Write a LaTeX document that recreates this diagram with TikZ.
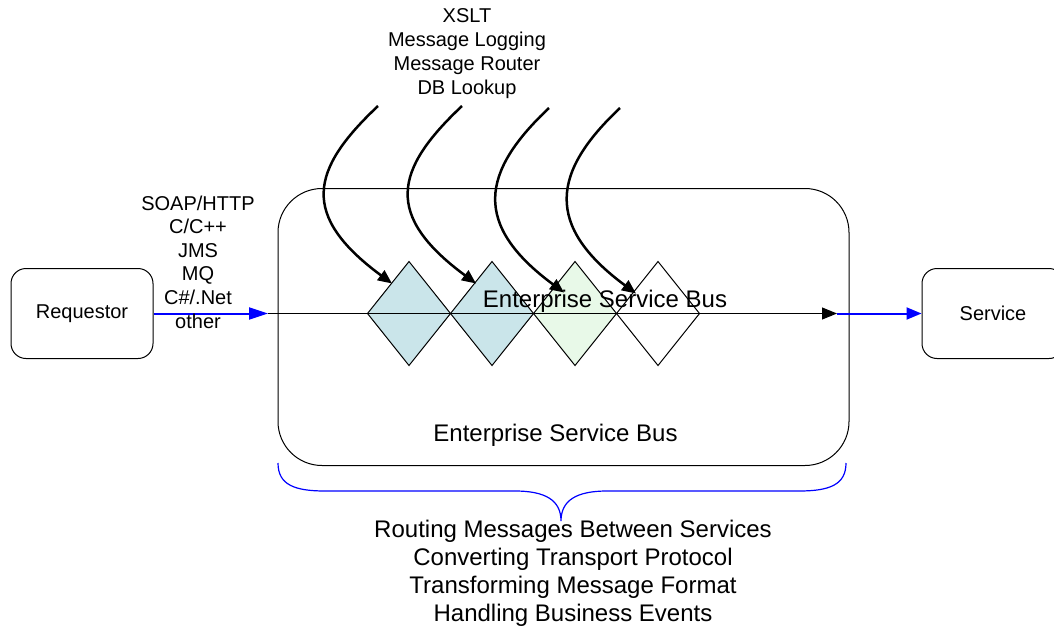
\documentclass[tikz,border=0pt]{standalone}
\usepackage{fontspec}
\setmainfont{Liberation Sans}
\usetikzlibrary{arrows.meta, positioning, calc, shapes.geometric}

\definecolor{hatchblue}{RGB}{202,229,234}
\definecolor{dotgreen}{RGB}{232,249,232}
\definecolor{busblue}{RGB}{0,0,255}

\tikzset{
  endpoint/.style={draw, line width=1pt, rounded corners=15pt, minimum width=142pt, minimum height=90pt, font=\fontsize{20}{24}\selectfont},
  stage/.style={diamond, draw, line width=1pt, minimum width=83pt, minimum height=104pt, inner sep=0pt, outer sep=0pt},
  feed/.style={line width=2.5pt, -{Triangle[length=14pt, width=12pt]}},
  textblock/.style={align=center, inner sep=0pt},
}

\begin{document}
\begin{tikzpicture}[x=1pt, y=-1pt, >=latex]

\useasboundingbox (0,0) rectangle (1054,629);

\node[endpoint] (req) at (82,313.5) {Requestor};
\node[endpoint] (srv) at (993,313.5) {Service};

\node[draw, line width=1pt, rounded corners=44pt, minimum width=571pt, minimum height=277pt] (esb) at (563.5,327) {};

\node[stage, fill=hatchblue] (d1) at (409,313.5) {};
\node[stage, fill=hatchblue, right=0pt of d1] (d2) {};
\node[stage, fill=dotgreen, right=0pt of d2] (d3) {};
\node[stage, fill=white, right=0pt of d3] (d4) {};

\coordinate (busin) at (268,313.5);
\coordinate (busout) at (837,313.5);

\draw[busblue, line width=2pt, -{Triangle[length=19pt, width=12pt]}] (req.east) -- (busin);
\draw[line width=1pt, -{Triangle[length=15pt, width=12pt]}] (busin) -- (busout);
\draw[busblue, line width=2pt, -{Triangle[length=15pt, width=12pt]}] (busout) -- (srv.west);

\coordinate (x1) at (378,106);
\coordinate (x2) at (462,106);
\coordinate (x3) at (549,108);
\coordinate (x4) at (620,108);
\coordinate (a1) at ($(d1.center)+(-17,-30)$);
\coordinate (a2) at ($(d2.center)+(-16,-30)$);
\coordinate (a3) at ($(d3.center)+(-11,-21)$);
\coordinate (a4) at ($(d4.center)+(-22,-20)$);

\draw[feed] (x1) .. controls +(-68,64) and +(-92,-68) .. (a1);
\draw[feed] (x2) .. controls +(-68,64) and +(-92,-68) .. (a2);
\draw[feed] (x3) .. controls +(-68,64) and +(-92,-68) .. (a3);
\draw[feed] (x4) .. controls +(-68,64) and +(-92,-68) .. (a4);

\coordinate (bl) at (278,463);
\coordinate (bt) at (561,521);
\coordinate (br) at (846,463);
\draw[busblue, line width=1.2pt] (bl) .. controls +(0,22) and +(-30,0) .. (325,491) -- (515,491)
  .. controls +(30,0) and +(0,-21) .. (bt)
  .. controls +(0,-21) and +(-30,0) .. (607,491) -- (799,491)
  .. controls +(30,0) and +(0,22) .. (br);

\node[font=\fontsize{24}{27.6}\selectfont, anchor=base] (inner) at (605,307) {Enterprise Service Bus};
\node[font=\fontsize{24}{27.6}\selectfont, anchor=base] (busname) at (555.5,441) {Enterprise Service Bus};

\node[textblock, font=\fontsize{20}{24}\selectfont, anchor=north] (tools) at (467,8.5) {XSLT\\Message Logging\\Message Router\\DB Lookup};
\node[textblock, font=\fontsize{20}{23.6}\selectfont, anchor=north] (protocols) at (198,195.5) {SOAP/HTTP\\C/C++\\JMS\\MQ\\C\#/.Net\\other};
\node[textblock, font=\fontsize{24}{28}\selectfont, anchor=north] (roles) at (573,520) {Routing Messages Between Services\\Converting Transport Protocol\\Transforming Message Format\\Handling Business Events};

\end{tikzpicture}
\end{document}
